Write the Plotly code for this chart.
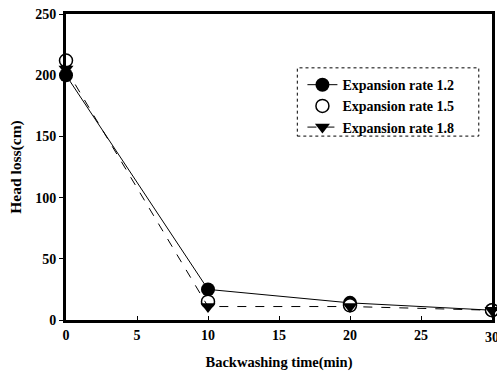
import plotly.graph_objects as go

# Backwashing time (min) and head loss (cm) for each expansion rate
time_min = [0, 10, 20, 30]
rate_12 = [200, 25, 14, 8]
rate_15 = [212, 15, 12, 8]
rate_18 = [205, 11, 11, 8]

series_names = ["Expansion rate 1.2", "Expansion rate 1.5", "Expansion rate 1.8"]
x_ticks = [0, 5, 10, 15, 20, 25, 30]
y_ticks = [0, 50, 100, 150, 200, 250]

FONT = "Liberation Serif"
TICK_FONT = dict(family=FONT, size=14, color="black", weight="bold")

fig = go.Figure()

fig.add_trace(go.Scatter(
    x=time_min, y=rate_12, name=series_names[0], mode="lines+markers",
    line=dict(color="black", width=1),
    marker=dict(symbol="circle", size=14, color="black"),
    cliponaxis=False,
))
fig.add_trace(go.Scatter(
    x=time_min, y=rate_15, name=series_names[1], mode="markers",
    marker=dict(symbol="circle", size=13, color="white",
                line=dict(color="black", width=1.5)),
    cliponaxis=False,
))
fig.add_trace(go.Scatter(
    x=time_min, y=rate_18, name=series_names[2], mode="lines+markers",
    line=dict(color="black", width=1, dash="dash"),
    marker=dict(symbol="triangle-down", size=13, color="black"),
    cliponaxis=False,
))

# dashed frame around the legend
fig.add_shape(type="rect", xref="paper", yref="paper",
              x0=0.543, x1=0.969, y0=0.601, y1=0.824,
              line=dict(color="black", width=1, dash="dot"),
              fillcolor="rgba(0,0,0,0)")

# last x tick label sits at the page edge; draw it as text so it is kept
fig.add_annotation(x=x_ticks[-1], xref="x", y=0, yref="paper",
                   yshift=-8, yanchor="top", showarrow=False,
                   text=str(x_ticks[-1]), font=TICK_FONT)

fig.update_layout(
    width=497, height=376,
    margin=dict(l=66, r=5, t=14, b=56, autoexpand=False),
    paper_bgcolor="white", plot_bgcolor="white",
    font=dict(family=FONT, color="black"),
    showlegend=True,
    legend=dict(x=0.555, y=0.82, xanchor="left", yanchor="top",
                bgcolor="rgba(0,0,0,0)", borderwidth=0,
                font=dict(family=FONT, size=14, color="black", weight="bold"),
                itemwidth=30, tracegroupgap=0),
    xaxis=dict(
        range=[0, 30], tickvals=x_ticks[:-1],
        showgrid=False, zeroline=False, automargin=False,
        showline=True, linecolor="black", linewidth=3, mirror=True,
        ticks="inside", ticklen=4, tickcolor="black", tickwidth=1,
        tickfont=TICK_FONT,
        title=dict(text="Backwashing time(min)", standoff=16,
                   font=dict(family=FONT, size=14.5, color="black", weight="bold")),
    ),
    yaxis=dict(
        range=[0, 250], tickvals=y_ticks,
        showgrid=False, zeroline=False, automargin=False,
        showline=True, linecolor="black", linewidth=3, mirror=True,
        ticks="outside", ticklen=4, tickcolor="black", tickwidth=1,
        tickfont=TICK_FONT,
        title=dict(text="Head loss(cm)", standoff=10,
                   font=dict(family=FONT, size=15.5, color="black", weight="bold")),
    ),
)

fig.write_html("out.html")
